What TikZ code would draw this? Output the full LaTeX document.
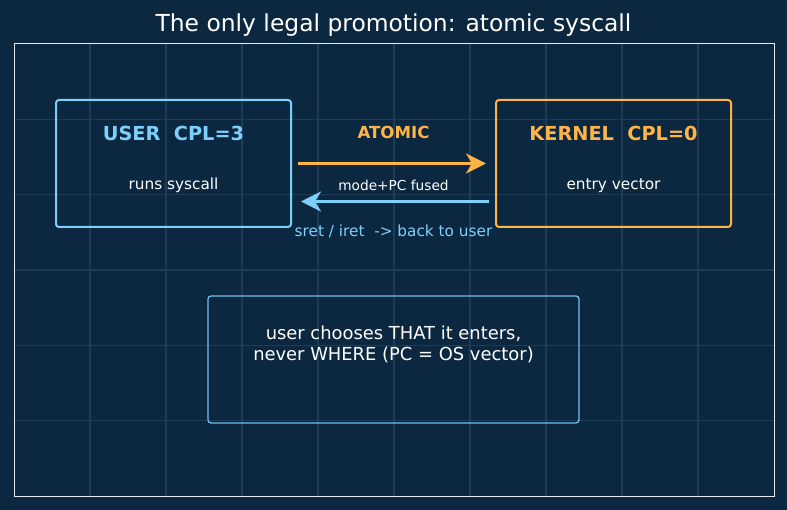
\documentclass[tikz,border=0pt]{standalone}
\usepackage{fontspec}
\setmainfont{DejaVu Sans}
\usetikzlibrary{positioning,arrows.meta,calc}

\definecolor{bgnavy}{RGB}{12,40,64}
\definecolor{gridnavy}{RGB}{31,60,86}
\definecolor{userblue}{RGB}{125,208,250}
\definecolor{kernorange}{RGB}{255,180,72}
\definecolor{noteblue}{RGB}{112,192,232}
\definecolor{framegray}{RGB}{226,234,240}

\tikzset{
  ringbox/.style={draw, rounded corners=3pt, line width=2pt, minimum width=235pt,
    minimum height=127pt, inner sep=0pt},
  boxhead/.style={anchor=base, font=\fontsize{19.3}{23}\selectfont\bfseries},
  boxsub/.style={anchor=base, text=white, font=\fontsize{15.3}{18}\selectfont},
  flow/.style={line width=3pt, -{Stealth[length=20pt,width=20pt,inset=6pt]}},
}

\begin{document}
\begin{tikzpicture}[x=1pt,y=-1pt]
\def\cell{76}
\def\row{75.33}

% page and grid
\fill[bgnavy] (0,0) rectangle (787,510);
\useasboundingbox (0,0) rectangle (787,510);
  \foreach \i in {1,...,9} {
    \draw[gridnavy, line width=1.3pt] ({14+\cell*\i},44) -- ({14+\cell*\i},496);
  }
  \foreach \j in {1,...,5} {
    \draw[gridnavy, line width=1.3pt] (14,{44+\row*\j}) -- (774,{44+\row*\j});
  }
\draw[framegray, line width=1pt] (14,44) rectangle (774,496);

\node[anchor=base, text=white, font=\fontsize{23.4}{28}\selectfont] (title) at (393.5,32)
  {The only legal promotion: atomic syscall};

% the two privilege levels
\node[ringbox, userblue] (user) at (173.5,163.5) {};
\node[ringbox, kernorange] (kernel) at (613.5,163.5) {};
\node[boxhead, text=userblue] (userhead) at ([yshift=-42]user.north) {USER\ \ CPL=3};
\node[boxsub] (usersub) at ([yshift=-91]user.north) {runs syscall};
\node[boxhead, text=kernorange] (kernhead) at ([yshift=-42]kernel.north) {KERNEL\ \ CPL=0};
\node[boxsub] (kernsub) at ([yshift=-91]kernel.north) {entry vector};

% the trap and the way back
\coordinate (mid) at ($(user.east)!.5!(kernel.west)$);
\draw[flow, kernorange, shorten <=6pt, shorten >=9pt] (user.east) -- (kernel.west);
\draw[flow, userblue, shorten <=6pt, shorten >=9pt] ([yshift=-38]kernel.west) -- ([yshift=-38]user.east);
\node[anchor=base, text=kernorange, font=\fontsize{16.6}{20}\selectfont\bfseries] (atomic)
  at ([yshift=25]mid) {ATOMIC};
\node[anchor=base, text=white, font=\fontsize{13.7}{16}\selectfont] (fused)
  at ([yshift=-27.5]mid) {mode+PC fused};
\node[anchor=base, text=userblue, font=\fontsize{15.3}{18}\selectfont] (sret)
  at ([yshift=-73.5]mid) {sret / iret\ \ -> back to user};

% the rule
\node[draw=noteblue, line width=1.3pt, rounded corners=3pt, minimum width=371pt,
  minimum height=127pt] (note) at (393.5,359.5) {};
\node[align=center, text=white, font=\fontsize{17.9}{21}\selectfont] (notetext)
  at ([yshift=15]note.center) {user chooses THAT it enters,\\never WHERE (PC = OS vector)};
\end{tikzpicture}
\end{document}
